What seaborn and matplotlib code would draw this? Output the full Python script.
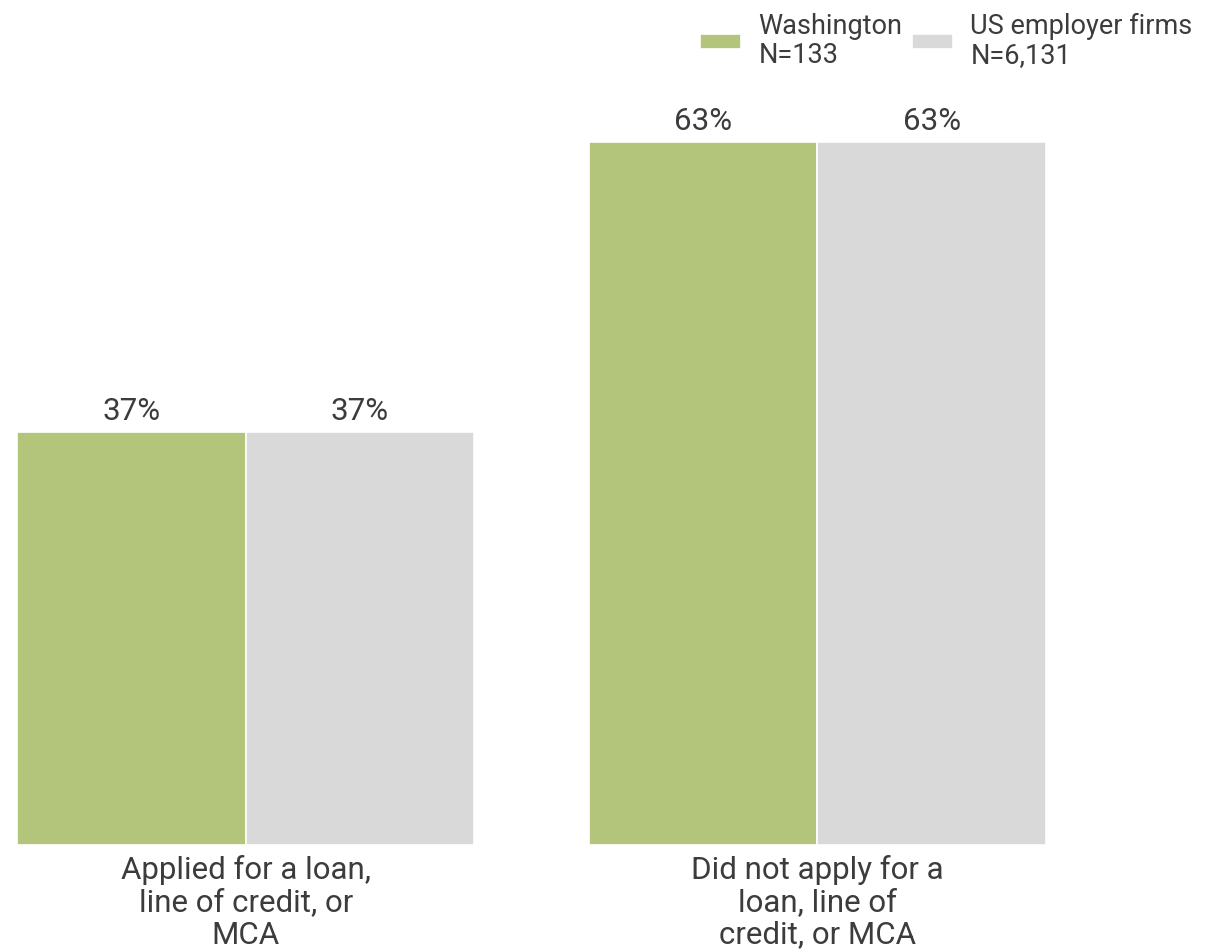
import pandas as pd
import matplotlib.pyplot as plt
import seaborn as sns

# Chart data
categories = ["Applied for a loan,\nline of credit, or\nMCA",
              "Did not apply for a\nloan, line of\ncredit, or MCA"]
series = ["Washington\nN=133", "US employer firms\nN=6,131"]
washington = [37, 63]
us_firms = [37, 63]
colors = ["#b3c57a", "#d9d9d9"]

df = pd.DataFrame({
    "category": categories * 2,
    "series": [series[0]] * 2 + [series[1]] * 2,
    "value": washington + us_firms,
})

sns.set_theme(style="white")
plt.rcParams['font.family'] = ['Roboto', 'DejaVu Sans']
text_color = "#3c3c3c"

fig = plt.figure(figsize=(12.07, 9.52), dpi=100)
ax = fig.add_axes([0.0141, 0.1124, 0.8525, 0.82])

sns.barplot(data=df, x="category", y="value", hue="series", palette=colors,
            width=0.8, edgecolor="white", linewidth=1.2, saturation=1, ax=ax)

# Value labels on top of bars
for cont in ax.containers:
    ax.bar_label(cont, labels=[f"{v:.0f}%" for v in cont.datavalues],
                 padding=4.5, fontsize=22.5, color=text_color)

ax.set_xlim(-0.4, 1.4)
ax.set_ylim(0, 70)
ax.set_xlabel("")
ax.set_ylabel("")
ax.set_yticks([])
ax.tick_params(axis="x", length=0, pad=7, labelsize=22.5, labelcolor=text_color)
plt.setp(ax.get_xticklabels(), linespacing=1.15)
sns.despine(ax=ax, left=True, bottom=True)

# Legend at top right
handles, labels = ax.get_legend_handles_labels()
ax.legend_.remove()
leg = fig.legend(handles, labels, loc="upper right", bbox_to_anchor=(0.997, 0.998),
                 ncol=2, frameon=False, fontsize=19.5, handlelength=1.5,
                 handleheight=0.5, handletextpad=0.65, columnspacing=0.35,
                 borderaxespad=0.0, labelcolor=text_color)
for t in leg.get_texts():
    t.set_linespacing(1.1)

plt.savefig("out.png", dpi=100)
plt.close()
